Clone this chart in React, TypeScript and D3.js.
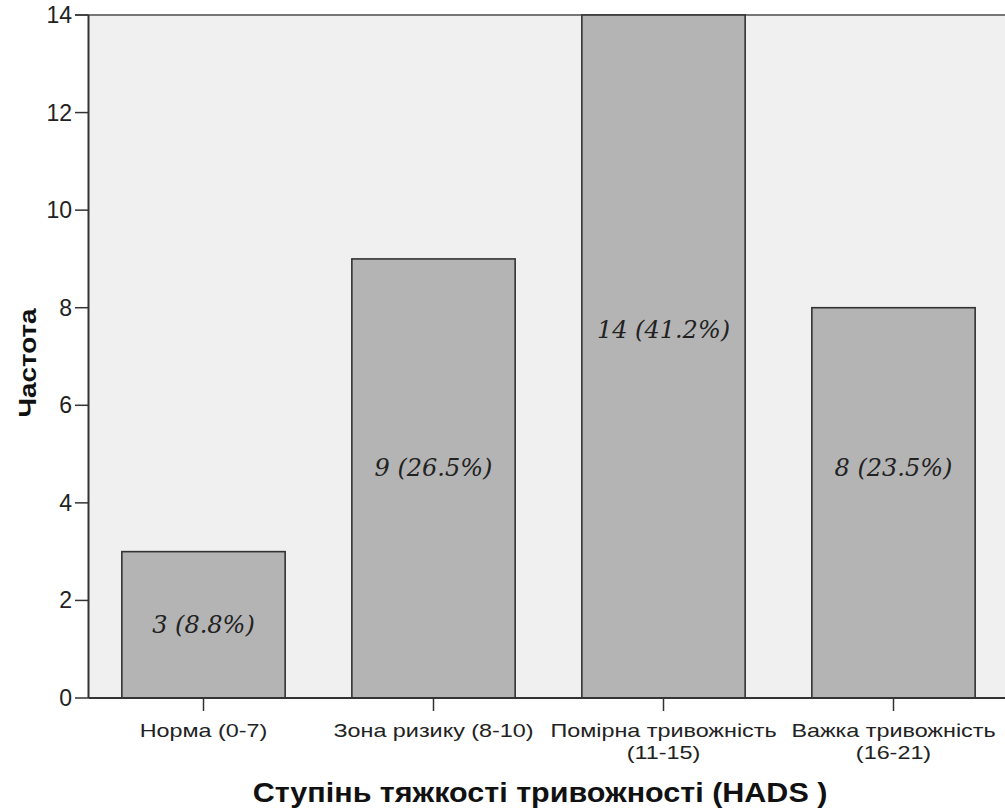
import React from "react";
import * as d3 from "d3";

const categories: string[][] = [
  ["Норма (0-7)"],
  ["Зона ризику (8-10)"],
  ["Помірна тривожність", "(11-15)"],
  ["Важка тривожність", "(16-21)"],
];
const counts: number[] = [3, 9, 14, 8];
const labels: string[] = ["3 (8.8%)", "9 (26.5%)", "14 (41.2%)", "8 (23.5%)"];
const labelLevels: number[] = [1.5, 4.73, 7.55, 4.73];
const yTicks: number[] = [0, 2, 4, 6, 8, 10, 12, 14];
const yTitle = "Частота";
const xTitle = "Ступінь тяжкості тривожності (HADS )";

export default function App() {
  const W = 1005, H = 810;
  const left = 88.5, right = 1008.5, top = 15, bottom = 698;
  const x = d3.scaleBand<number>().domain(d3.range(counts.length)).range([left, right]).paddingInner(0.29).paddingOuter(0.145);
  const y = d3.scaleLinear().domain([0, 14]).range([bottom, top]);
  const sans = "'Liberation Sans', Arial, sans-serif";
  return (
    <svg width={W} height={H} style={{ position: "absolute", left: 0, top: 0 }}>
      <rect x={0} y={0} width={W} height={H} fill="#fff" />
      <rect x={left} y={top} width={right - left} height={bottom - top} fill="#f0f0f0" />
      <line x1={75} x2={W} y1={top} y2={top} stroke="#777" strokeWidth={2} />
      {counts.map((c, i) => (
        <rect key={i} x={x(i)!} y={y(c)} width={x.bandwidth()} height={bottom - y(c)} fill="#b4b4b4" stroke="#333" strokeWidth={1.6} />
      ))}
      {counts.map((c, i) => (
        <text key={"l" + i} x={x(i)! + x.bandwidth() / 2} y={y(labelLevels[i])} dy="0.35em" textAnchor="middle"
          fontFamily="'DejaVu Serif', serif" fontStyle="italic" fontSize={24} fill="#222">{labels[i]}</text>
      ))}
      <line x1={left} x2={left} y1={top} y2={bottom} stroke="#333" strokeWidth={2} />
      <line x1={left} x2={W} y1={bottom} y2={bottom} stroke="#333" strokeWidth={2} />
      {yTicks.map((t) => (
        <g key={"t" + t}>
          <line x1={75} x2={left} y1={y(t)} y2={y(t)} stroke="#333" strokeWidth={1.5} />
          <text x={72} y={y(t)} dy="0.35em" textAnchor="end" fontFamily={sans} fontSize={23} fill="#222">{t}</text>
        </g>
      ))}
      {categories.map((lines, i) => {
        const cx = x(i)! + x.bandwidth() / 2;
        return (
          <g key={"c" + i}>
            <line x1={cx} x2={cx} y1={bottom} y2={711} stroke="#333" strokeWidth={1.5} />
            {lines.map((s, j) => (
              <g key={j} transform={`translate(${cx},${737 + j * 22}) scale(1.23,1)`}>
                <text x={0} y={0} textAnchor="middle" fontFamily={sans} fontSize={19} fill="#222">{s}</text>
              </g>
            ))}
          </g>
        );
      })}
      <g transform="translate(540,802) scale(1.13,1)">
        <text x={0} y={0} textAnchor="middle" fontFamily={sans} fontWeight="bold" fontSize={27} fill="#111">{xTitle}</text>
      </g>
      <g transform="translate(36,363) rotate(-90) scale(1.16,1)">
        <text x={0} y={0} textAnchor="middle" fontFamily={sans} fontWeight="bold" fontSize={24} fill="#111">{yTitle}</text>
      </g>
    </svg>
  );
}
